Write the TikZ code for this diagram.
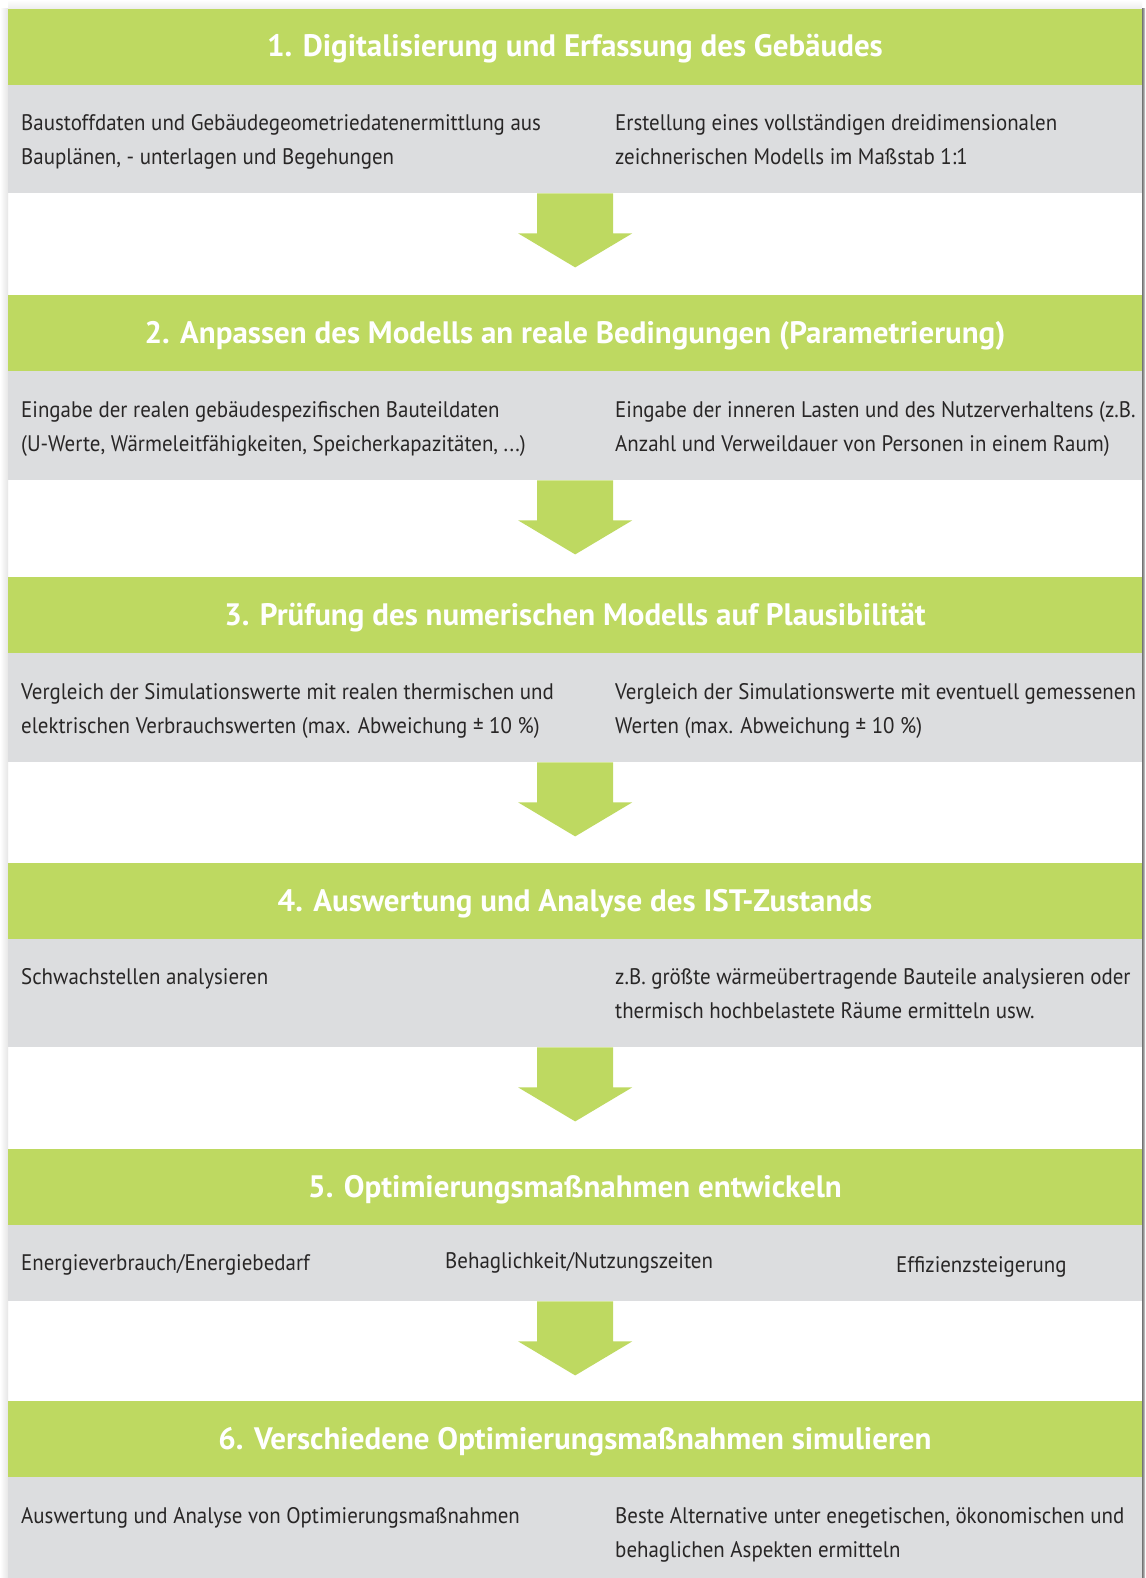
\documentclass[tikz,border=0pt]{standalone}
\usepackage{fontspec}
\setmainfont{PT Sans}
\newfontfamily\bodyfam{PT Sans}[FakeStretch=0.93]
\usetikzlibrary{calc}
\definecolor{hdgreen}{RGB}{190,217,97}
\definecolor{panelgray}{RGB}{220,221,223}
\definecolor{textdark}{RGB}{40,38,38}
\newcommand{\titlefont}{\fontsize{31}{36}\selectfont\bfseries}
\newcommand{\bodyfont}{\bodyfam\fontsize{22.5}{34}\selectfont}
\tikzset{
  band/.style={fill=hdgreen, draw=none, rectangle, inner sep=0, minimum width=1134pt, minimum height=76pt, anchor=north west},
  panel/.style={fill=panelgray, draw=none, rectangle, inner sep=0, minimum width=1134pt, anchor=north west},
  title/.style={anchor=base, inner sep=0, text=white, font=\titlefont},
  body/.style={anchor=base west, inner sep=0, text=textdark, font=\bodyfont},
  flowarrow/.style={fill=hdgreen, draw=none}
}
\newcommand{\flowarrowfrom}[1]{%
  \fill[flowarrow] ($(#1.south)+(-38,0)$) -- ($(#1.south)+(38,0)$) -- ($(#1.south)+(38,40)$)
    -- ($(#1.south)+(57,40)$) -- ($(#1.south)+(0,74)$) -- ($(#1.south)+(-57,40)$)
    -- ($(#1.south)+(-38,40)$) -- cycle;}
\begin{document}
\begin{tikzpicture}[x=1pt,y=-1pt]
\useasboundingbox (0,0) rectangle (1145,1578);
\fill[white] (0,0) rectangle (1145,1578);
% soft shadow of the sheet
\shade[left color=white, right color=black!10] (0,9) rectangle (8,1578);
\shade[top color=white, bottom color=black!7] (8,0) rectangle (1142,9);
\shade[left color=black!55, right color=black!15] (1142,9) rectangle (1145,1578);

% ---- section 1
\node[band] (g1) at (8,9) {};
\node[panel, minimum height=108pt] (p1) at (8,85) {};
\node[title] (t1) at (575,57) {1. Digitalisierung und Erfassung des Gebäudes};
\node[body] (a1) at (21,131) {Baustoffdaten und Gebäudegeometriedatenermittlung aus};
\node[body] (a2) at (21,165) {Bauplänen, - unterlagen und Begehungen};
\node[body] (b1) at (615,131) {Erstellung eines vollständigen dreidimensionalen};
\node[body] (b2) at (615,165) {zeichnerischen Modells im Maßstab 1:1};
\flowarrowfrom{p1}

% ---- section 2
\node[band] (g2) at (8,295) {};
\node[panel, minimum height=109pt] (p2) at (8,371) {};
\node[title] (t2) at (575,343) {2. Anpassen des Modells an reale Bedingungen (Parametrierung)};
\node[body] (c1) at (21,417) {Eingabe der realen gebäudespezifischen Bauteildaten};
\node[body] (c2) at (21,451) {(U-Werte, Wärmeleitfähigkeiten, Speicherkapazitäten, ...)};
\node[body] (d1) at (615,417) {Eingabe der inneren Lasten und des Nutzerverhaltens (z.B.};
\node[body] (d2) at (615,451) {Anzahl und Verweildauer von Personen in einem Raum)};
\flowarrowfrom{p2}

% ---- section 3
\node[band] (g3) at (8,577) {};
\node[panel, minimum height=109pt] (p3) at (8,653) {};
\node[title] (t3) at (575,625) {3. Prüfung des numerischen Modells auf Plausibilität};
\node[body] (e1) at (21,699) {Vergleich der Simulationswerte mit realen thermischen und};
\node[body] (e2) at (21,733) {elektrischen Verbrauchswerten (max. Abweichung ± 10 \%)};
\node[body] (f1) at (615,699) {Vergleich der Simulationswerte mit eventuell gemessenen};
\node[body] (f2) at (615,733) {Werten (max. Abweichung ± 10 \%)};
\flowarrowfrom{p3}

% ---- section 4
\node[band] (g4) at (8,863) {};
\node[panel, minimum height=108pt] (p4) at (8,939) {};
\node[title] (t4) at (575,911) {4. Auswertung und Analyse des IST-Zustands};
\node[body] (h1) at (21,984) {Schwachstellen analysieren};
\node[body] (i1) at (615,984) {z.B. größte wärmeübertragende Bauteile analysieren oder};
\node[body] (i2) at (615,1018) {thermisch hochbelastete Räume ermitteln usw.};
\flowarrowfrom{p4}

% ---- section 5
\node[band] (g5) at (8,1149) {};
\node[panel, minimum height=76pt] (p5) at (8,1225) {};
\node[title] (t5) at (575,1197) {5. Optimierungsmaßnahmen entwickeln};
\node[body] (j1) at (21,1270) {Energieverbrauch/Energiebedarf};
\node[body] (k1) at (445,1268) {Behaglichkeit/Nutzungszeiten};
\node[body] (l1) at (896,1272) {Effizienzsteigerung};
\flowarrowfrom{p5}

% ---- section 6
\node[band] (g6) at (8,1401) {};
\node[panel, minimum height=101pt] (p6) at (8,1477) {};
\node[title] (t6) at (575,1449) {6. Verschiedene Optimierungsmaßnahmen simulieren};
\node[body] (m1) at (21,1523) {Auswertung und Analyse von Optimierungsmaßnahmen};
\node[body] (n1) at (615,1523) {Beste Alternative unter enegetischen, ökonomischen und};
\node[body] (n2) at (615,1557) {behaglichen Aspekten ermitteln};
\end{tikzpicture}
\end{document}
